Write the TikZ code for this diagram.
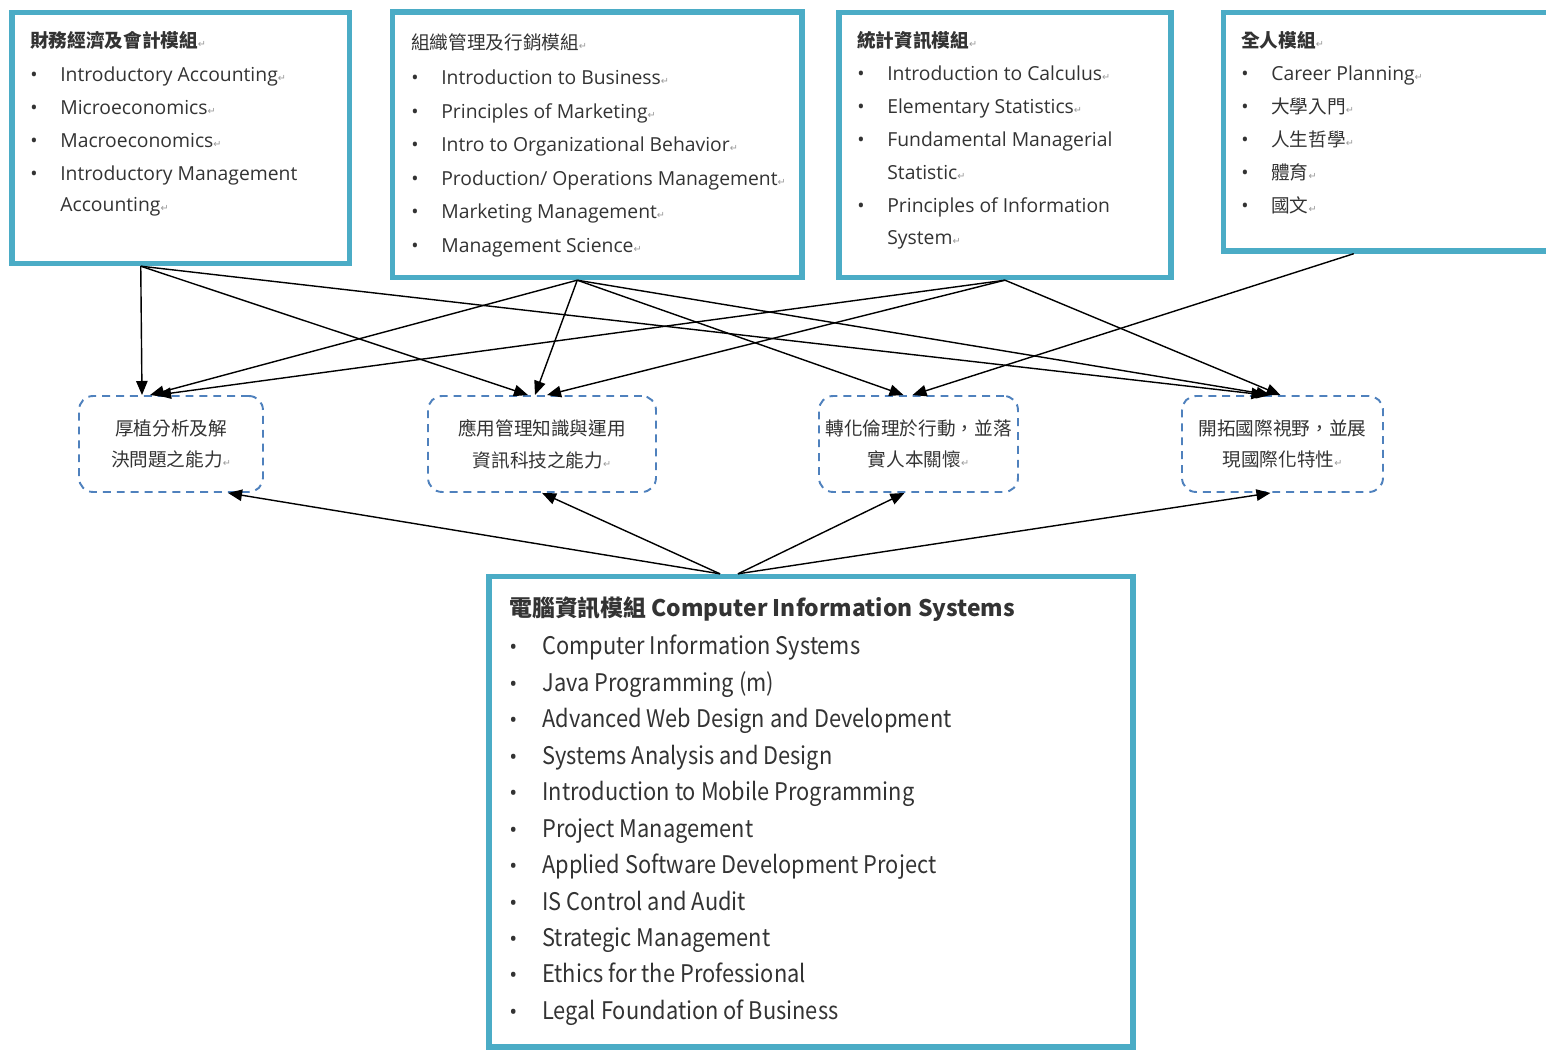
\documentclass[tikz,border=0pt]{standalone}
\usepackage{fontspec}
\setmainfont{Open Sans}
\newfontfamily\cjk{Noto Sans CJK TC}
\newfontfamily\cjknarrow[FakeStretch=0.9]{Noto Sans CJK TC}
\newfontfamily\symfont{DejaVu Sans}
\usetikzlibrary{arrows.meta,calc}
\definecolor{modblue}{HTML}{4BACC6}
\definecolor{goalblue}{HTML}{4F81BD}
\definecolor{ink}{HTML}{333333}
\newcommand{\retmark}{{\symfont\fontsize{5.5}{5.5}\selectfont\color{black!40}↵}}
\newcommand{\itm}{\makebox[0.6cm][l]{\textbullet}}
\newcommand{\itmb}{\makebox[0.66cm][l]{\rmfamily\fontsize{12}{12}\selectfont\textbullet}}
\newcommand{\zh}{\cjk\fontsize{10.6}{18.7}\selectfont}
\tikzset{
  module/.style={
    draw=modblue,
    line width=3.1pt,
    fill=white,
    inner sep=0pt,
  },
  goal/.style={
    draw=goalblue,
    line width=1.1pt,
    dash pattern=on 4.5pt off 3.4pt,
    rounded corners=8pt,
    inner sep=0pt,
    align=center,
    text=ink,
    font=\cjk\fontsize{10.6}{18}\selectfont,
  },
  courses/.style={
    anchor=north west,
    inner sep=0pt,
    align=left,
    text=ink,
    font=\fontsize{11}{18.7}\selectfont,
  },
  link/.style={
    -{Triangle[length=8pt,width=6.5pt]},
    line width=0.8pt,
  }
}

\begin{document}
\begin{tikzpicture}[x=0.02cm, y=-0.02cm]
\useasboundingbox (0,0) rectangle (1546,1050);

% module boxes
\node[module, minimum width=6.75cm, minimum height=5.02cm] (fin) at (180.75,138) {};
\node[module, minimum width=8.19cm, minimum height=5.31cm] (org) at (597.25,144.75) {};
\node[module, minimum width=6.64cm, minimum height=5.3cm] (stat) at (1005,145) {};
\node[module, minimum width=9.53cm, minimum height=4.77cm] (whole) at (1461.75,131.75) {};
\node[module, minimum width=12.88cm, minimum height=9.41cm] (cis) at (811,811.75) {};

\node[courses] (finList) at (30,31) {{\zh\bfseries 財務經濟及會計模組}\retmark\\[0.8pt]
  \itm Introductory Accounting\retmark\\
  \itm Microeconomics\retmark\\
  \itm Macroeconomics\retmark\\
  \itm Introductory Management\\[-1pt]
  \hspace*{0.6cm}Accounting\retmark};
\node[courses, font=\fontsize{11}{19.1}\selectfont] (orgList) at (411,33) {{\zh 組織管理及行銷模組}\retmark\\[1pt]
  \itm Introduction to Business\retmark\\
  \itm Principles of Marketing\retmark\\
  \itm Intro to Organizational Behavior\retmark\\
  \itm Production/ Operations Management\retmark\\
  \itm Marketing Management\retmark\\
  \itm Management Science\retmark};
\node[courses] (statList) at (857,31) {{\zh\bfseries 統計資訊模組}\retmark\\[0.2pt]
  \itm Introduction to Calculus\retmark\\
  \itm Elementary Statistics\retmark\\
  \itm Fundamental Managerial\\
  \hspace*{0.6cm}Statistic\retmark\\
  \itm Principles of Information\\
  \hspace*{0.6cm}System\retmark};
\node[courses] (wholeList) at (1241,31) {{\zh\bfseries 全人模組}\retmark\\[0.2pt]
  \itm Career Planning\retmark\\
  \itm {\zh 大學入門}\retmark\\
  \itm {\zh 人生哲學}\retmark\\
  \itm {\zh 體育}\retmark\\
  \itm {\zh 國文}\retmark};
\node[courses, font=\cjknarrow\fontsize{13.8}{20.75}\selectfont] (cisList) at (509,596)
  {{\cjk\bfseries\fontsize{13}{20.75}\selectfont 電腦資訊模組 Computer Information Systems}\\[1.3pt]
  \itmb Computer Information Systems\\
  \itmb Java Programming (m)\\
  \itmb Advanced Web Design and Development\\
  \itmb Systems Analysis and Design\\
  \itmb Introduction to Mobile Programming\\
  \itmb Project Management\\
  \itmb Applied Software Development Project\\
  \itmb IS Control and Audit\\
  \itmb Strategic Management\\
  \itmb Ethics for the Professional\\
  \itmb Legal Foundation of Business};

% goals
\node[goal, minimum width=3.68cm, minimum height=1.92cm] (m1) at (171,444) {厚植分析及解\\決問題之能力\retmark};
\node[goal, minimum width=4.56cm, minimum height=1.92cm] (m2) at (542,444) {應用管理知識與運用\\資訊科技之能力\retmark};
\node[goal, minimum width=3.98cm, minimum height=1.92cm] (m3) at (918.5,444) {轉化倫理於行動，並落\\實人本關懷\retmark};
\node[goal, minimum width=4.02cm, minimum height=1.92cm] (m4) at (1282.5,444) {開拓國際視野，並展\\現國際化特性\retmark};

\foreach \src/\sdx/\dst/\ddx in {fin/-40/m1/-29, fin/-40/m2/-14, fin/-40/m4/-17,
  org/-20/m1/-21, org/-20/m2/-7, org/-20/m3/-15, org/-20/m4/-12,
  stat/0/m1/-14, stat/0/m2/5, stat/0/m4/-2, whole/-108/m3/-6}
  \draw[link] ($(\src.south)+(\sdx,0)$) -- ($(\dst.north)+(\ddx,0)$);

\foreach \dst/\sdx/\ddx in {m1/-91/57, m2/-91/0, m3/-73/-14, m4/-73/-12}
  \draw[link] ($(cis.north)+(\sdx,0)$) -- ($(\dst.south)+(\ddx,0)$);

\end{tikzpicture}
\end{document}
